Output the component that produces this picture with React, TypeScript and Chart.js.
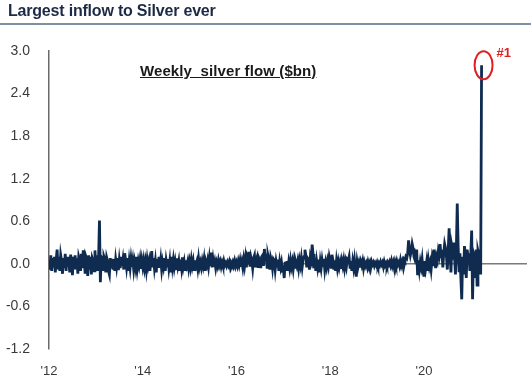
import React, { useEffect, useRef } from "react";
import { Chart, registerables } from "chart.js";

Chart.register(...registerables);

const TITLE = "Largest inflow to Silver ever";
const SERIES_LABEL = "Weekly  silver flow ($bn)";
const START_YEAR = 2012;
const WEEKS_PER_YEAR = 52;

const xTickYears = [2012, 2014, 2016, 2018, 2020];
const xTickLabels = ["'12", "'14", "'16", "'18", "'20"];
const yTicks = [-1.2, -0.6, 0.0, 0.6, 1.2, 1.8, 2.4, 3.0];

// weekly flows ($bn)
const y2012 = [0.05, -0.08, 0.12, -0.1, 0.08, -0.05, 0.1, -0.12, 0.06, 0.2, -0.06, 0.1, -0.1, 0.12, 0.04, -0.14, 0.08, -0.06, 0.14, -0.1, 0.1, -0.04, 0.06, -0.12, 0.13, 0.02, -0.16, 0.1, -0.08, 0.12, -0.06, 0.08, -0.14, 0.1, 0.05, -0.1, 0.14, -0.06, 0.19, 0.08, -0.12, 0.1, 0.06, -0.17, 0.12, -0.08, 0.1, -0.15, 0.08, 0.04, -0.1, 0.19];
const y2013 = [-0.06, 0.12, -0.1, 0.08, 0.61, -0.26, 0.1, 0.08, -0.08, 0.1, 0.06, -0.12, 0.09, 0.04, -0.1, -0.15, 0.08, -0.06, 0.07, -0.08, 0.05, -0.1, 0.06, -0.04, 0.08, -0.09, 0.05, -0.06, 0.1, -0.03, 0.06, -0.08, 0.15, 0.06, -0.05, 0.08, -0.1, 0.04, -0.06, 0.07, -0.04, 0.05, -0.08, 0.03, -0.05, 0.1, -0.06, 0.04, -0.03, 0.06, -0.07, 0.05];
const y2014 = [-0.04, 0.05, -0.06, 0.03, -0.08, 0.06, -0.03, 0.04, -0.1, 0.05, 0.18, -0.05, 0.08, -0.06, 0.04, -0.12, 0.07, -0.04, 0.1, -0.05, 0.06, -0.08, 0.03, -0.04, 0.08, -0.1, 0.05, -0.03, 0.07, -0.06, 0.04, -0.12, 0.1, -0.04, 0.06, -0.05, 0.03, -0.07, 0.08, -0.03, 0.04, -0.1, 0.06, -0.05, 0.09, -0.04, 0.03, -0.08, 0.05, -0.02, 0.04, -0.06];
const y2015 = [0.03, -0.05, 0.06, -0.03, 0.04, -0.08, 0.05, -0.02, 0.03, -0.06, 0.07, -0.04, 0.02, -0.05, 0.04, -0.03, 0.06, -0.1, 0.03, -0.02, 0.05, -0.04, 0.08, -0.03, 0.16, -0.05, 0.06, -0.04, 0.03, -0.06, 0.02, -0.03, 0.05, -0.02, 0.03, -0.04, 0.02, -0.03, 0.04, -0.02, 0.01, -0.03, 0.02, -0.02, 0.03, -0.04, 0.02, -0.01, 0.03, -0.02, 0.04, -0.03];
const y2016 = [0.02, -0.03, 0.04, -0.02, 0.05, -0.04, 0.03, -0.05, 0.06, -0.03, 0.08, -0.05, 0.1, 0.06, 0.17, -0.04, 0.1, 0.05, -0.06, 0.08, 0.12, -0.05, 0.06, 0.1, -0.04, 0.08, 0.05, -0.06, 0.1, 0.12, -0.03, 0.21, 0.08, 0.1, -0.05, 0.12, 0.06, -0.08, 0.09, 0.04, -0.06, 0.07, 0.05, -0.08, 0.04, -0.03, 0.06, -0.1, 0.03, -0.05, 0.02, -0.08];
const y2017 = [-0.06, -0.2, 0.03, -0.08, 0.04, -0.1, 0.02, -0.06, 0.05, -0.04, 0.03, -0.07, 0.04, -0.05, 0.02, -0.03, 0.04, -0.06, 0.05, -0.02, 0.08, -0.04, 0.06, 0.1, 0.2, 0.12, -0.05, 0.08, 0.06, -0.08, 0.1, 0.05, 0.27, 0.14, -0.06, 0.08, -0.1, 0.04, -0.05, 0.06, -0.12, 0.03, -0.06, 0.05, -0.04, 0.07, -0.08, 0.02, -0.05, 0.04, -0.03, 0.1];
const y2018 = [0.04, -0.05, 0.13, 0.06, -0.08, 0.05, -0.1, 0.04, -0.06, 0.03, -0.05, 0.02, -0.07, 0.04, -0.03, 0.05, -0.06, 0.03, -0.04, 0.06, 0.04, 0.1, -0.05, 0.04, -0.1, 0.03, -0.06, 0.05, -0.08, -0.18, 0.03, -0.04, 0.02, -0.05, 0.03, -0.02, 0.04, -0.06, 0.02, -0.03, 0.01, -0.04, 0.03, -0.02, 0.02, -0.05, 0.03, -0.01, 0.02, -0.03, 0.01, -0.02];
const y2019 = [0.02, -0.03, 0.01, -0.02, 0.03, -0.01, 0.02, -0.04, 0.03, -0.02, 0.01, -0.03, 0.02, -0.01, 0.03, -0.02, 0.04, -0.03, 0.02, -0.05, 0.03, -0.02, 0.04, -0.01, 0.02, -0.03, 0.05, -0.02, 0.03, -0.04, 0.06, 0.04, 0.1, 0.08, 0.15, 0.33, 0.2, 0.12, 0.18, 0.28, 0.22, 0.1, 0.06, 0.12, 0.2, -0.16, 0.05, -0.08, 0.03, -0.04, 0.06, -0.1];
const y2020 = [-0.18, 0.04, -0.06, 0.03, -0.1, 0.05, -0.04, 0.02, -0.08, 0.06, -0.03, 0.2, 0.08, -0.06, 0.1, 0.05, 0.18, 0.12, 0.28, 0.1, 0.2, -0.05, 0.15, 0.28, 0.22, 0.1, -0.08, 0.2, 0.5, 0.15, -0.12, 0.25, 0.18, 0.3, 0.12, -0.15, 0.2, 0.85, 0.25, -0.1, 0.15, -0.2, -0.5, 0.1, -0.15, 0.25, 0.12, -0.2, 0.2, 0.1, 0.15, -0.1];
const y2021 = [0.12, 0.47, -0.5, 0.15, 0.1, -0.2, 0.2, -0.3, 0.18, 0.12, 0.2, -0.15, 2.8];

const flows = [...y2012, ...y2013, ...y2014, ...y2015, ...y2016, ...y2017, ...y2018, ...y2019, ...y2020, ...y2021];

const FONT = "'Liberation Sans', Arial, sans-serif";

const annotationPlugin = {
  id: "peakMark",
  afterDatasetsDraw(chart: any) {
    const meta = chart.getDatasetMeta(0);
    const last = meta.data[meta.data.length - 1];
    if (!last) return;
    const ctx = chart.ctx;
    ctx.save();
    ctx.strokeStyle = "#e02020";
    ctx.lineWidth = 2;
    ctx.beginPath();
    ctx.ellipse(last.x + 2, last.y, 9, 14, 0, 0, Math.PI * 2);
    ctx.stroke();
    ctx.fillStyle = "#e02020";
    ctx.font = "bold 13px " + FONT;
    ctx.textBaseline = "middle";
    ctx.textAlign = "left";
    ctx.fillText("#1", last.x + 15, last.y - 12);
    ctx.restore();
  },
};

export default function App() {
  const ref = useRef<HTMLCanvasElement | null>(null);

  useEffect(() => {
    document.body.style.margin = "0";
    if (!ref.current) return;
    const data = flows.map((v, i) => ({ x: START_YEAR + i / WEEKS_PER_YEAR, y: v }));
    const chart = new Chart(ref.current, {
      type: "line",
      data: {
        datasets: [
          {
            data,
            borderColor: "#0f2b50",
            borderWidth: 2.8,
            pointRadius: 0,
            tension: 0,
            fill: false,
          },
        ],
      },
      options: {
        animation: false,
        responsive: false,
        plugins: { legend: { display: false }, tooltip: { enabled: false } },
        layout: { padding: { top: 51, right: 4, left: 0, bottom: 0 } },
        scales: {
          x: {
            type: "linear",
            min: 2012,
            max: 2022.2,
            afterBuildTicks: (s: any) => {
              s.ticks = xTickYears.map((v) => ({ value: v }));
            },
            afterFit: (s: any) => {
              s.height = 41;
            },
            ticks: {
              callback: (v: any) => {
                const i = xTickYears.indexOf(Number(v));
                return i >= 0 ? xTickLabels[i] : "";
              },
              color: "#3a3a3a",
              font: { family: FONT, size: 13 },
              padding: 15,
              maxRotation: 0,
              autoSkip: false,
            },
            grid: { display: false, drawTicks: false },
            border: { display: false },
          },
          y: {
            min: -1.2,
            max: 3.0,
            afterBuildTicks: (s: any) => {
              s.ticks = yTicks.map((v) => ({ value: v }));
            },
            afterFit: (s: any) => {
              s.width = 49;
            },
            ticks: {
              callback: (v: any) => Number(v).toFixed(1),
              color: "#3a3a3a",
              font: { family: FONT, size: 14 },
              padding: 19,
              autoSkip: false,
            },
            grid: {
              drawTicks: false,
              lineWidth: 1.5,
              color: (c: any) => (c.tick && Math.abs(c.tick.value) < 1e-9 ? "#7a7a7a" : "rgba(0,0,0,0)"),
            },
            border: { display: true, color: "#6a6a6a", width: 1.5 },
          },
        },
      },
      plugins: [annotationPlugin],
    } as any);
    return () => chart.destroy();
  }, []);

  return (
    <div style={{ position: "relative", width: 531, height: 390, background: "#fff" }}>
      <canvas ref={ref} width={531} height={390} style={{ position: "absolute", left: 0, top: 0 }} />
      <div
        style={{
          position: "absolute",
          left: 0,
          top: 0,
          width: 531,
          height: 23,
          borderBottom: "2.5px solid #7d8fa3",
        }}
      >
        <div
          style={{
            position: "absolute",
            left: 8,
            top: 2,
            fontFamily: FONT,
            fontWeight: "bold",
            fontSize: 16,
            letterSpacing: -0.2,
            color: "#1c2a45",
            whiteSpace: "nowrap",
          }}
        >
          {TITLE}
        </div>
      </div>
      <div
        style={{
          position: "absolute",
          left: 140,
          top: 62,
          fontFamily: FONT,
          fontWeight: "bold",
          fontSize: 15,
          letterSpacing: 0.1,
          color: "#1a1a1a",
          textDecoration: "underline",
          whiteSpace: "pre",
        }}
      >
        {SERIES_LABEL}
      </div>
    </div>
  );
}
